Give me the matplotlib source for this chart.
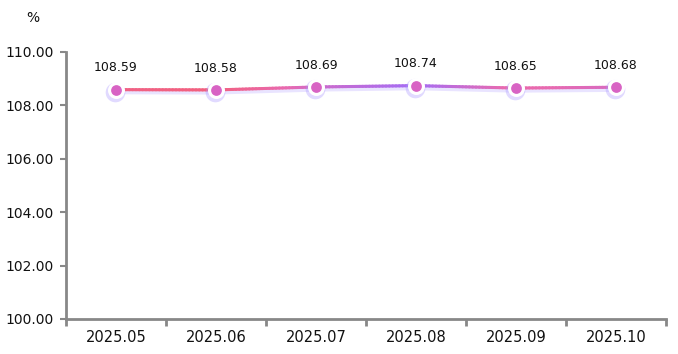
import numpy as np
import matplotlib
matplotlib.use("Agg")
import matplotlib.pyplot as plt
from matplotlib.collections import LineCollection
from matplotlib.colors import LinearSegmentedColormap

# data
months = ["2025.05", "2025.06", "2025.07", "2025.08", "2025.09", "2025.10"]
values = [108.59, 108.58, 108.69, 108.74, 108.65, 108.68]
y_ticks = [100, 102, 104, 106, 108, 110]

plt.rcParams["font.family"] = ["DejaVu Sans"]

fig = plt.figure(figsize=(6.78, 3.54), dpi=100)
ax = fig.add_axes([66 / 678, 1 - 319 / 354, 600 / 678, (319 - 52) / 354])

x = np.arange(len(months)) + 0.5

# gradient line, coloured by value (pink low -> purple high)
cmap = LinearSegmentedColormap.from_list("pp", ["#f2607f", "#e86ab0", "#a46cf5"])
xs, ys = [], []
for i in range(len(x) - 1):
    t = np.linspace(0, 1, 30, endpoint=False)
    xs.extend(x[i] + t * (x[i + 1] - x[i]))
    ys.extend(values[i] + t * (values[i + 1] - values[i]))
xs.append(x[-1])
ys.append(values[-1])
pts = np.column_stack([xs, ys]).reshape(-1, 1, 2)
segs = np.concatenate([pts[:-1], pts[1:]], axis=1)
mid = (np.array(ys[:-1]) + np.array(ys[1:])) / 2
norm = plt.Normalize(min(values), max(values))

# soft glow under the line
ax.plot(x, np.array(values) - 0.07, color="#b9a6ff", lw=4, alpha=0.3,
        solid_capstyle="round", zorder=2)
lc = LineCollection(segs, colors=cmap(norm(mid)), linewidths=2.2, zorder=3,
                    capstyle="round")
ax.add_collection(lc)

# markers: glow, white ring, coloured centre
ax.scatter(x - 0.015, np.array(values) - 0.07, s=200, color="#a995ff",
           alpha=0.35, linewidths=0, zorder=4)
ax.scatter(x, values, s=150, color="white", linewidths=0, zorder=5)
ax.scatter(x, values, s=60, color="#d863c4", linewidths=0, zorder=6)

for xi, v in zip(x, values):
    ax.annotate(f"{v:.2f}", (xi, v), xytext=(0, 11), textcoords="offset points",
                ha="center", va="bottom", fontsize=9, color="#111111")

ax.set_xlim(0, len(months))
ax.set_ylim(100, 110)
ax.set_yticks(y_ticks)
ax.set_yticklabels([f"{t:.2f}" for t in y_ticks])
ax.set_xticks(np.arange(len(months) + 1))
ax.set_xticklabels([])
ax.set_xticks(x, minor=True)
ax.set_xticklabels(months, minor=True)
ax.tick_params(axis="x", which="minor", length=0, pad=8, labelsize=10.5,
               labelcolor="#111111")
ax.tick_params(axis="x", which="major", length=5, width=2, color="#888888")
ax.tick_params(axis="y", length=4, width=1.5, color="#888888", pad=5,
               labelsize=10, labelcolor="#111111")

for side in ["top", "right"]:
    ax.spines[side].set_visible(False)
for side in ["left", "bottom"]:
    ax.spines[side].set_color("#888888")
    ax.spines[side].set_linewidth(2)

fig.text(33 / 678, 1 - 18 / 354, "%", ha="center", va="center", fontsize=10,
         color="#111111")

fig.savefig("out.png", dpi=100)
